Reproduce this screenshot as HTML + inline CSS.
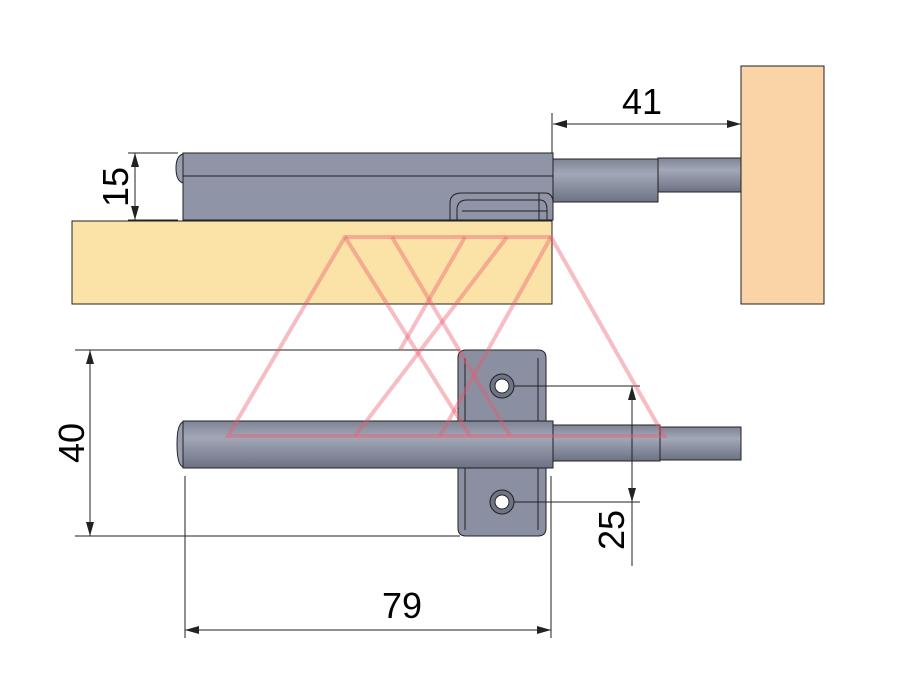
<!DOCTYPE html>
<html><head><style>body{margin:0;background:#fff}svg{display:block}</style></head><body>
<svg width="900" height="675" viewBox="0 0 900 675" xmlns="http://www.w3.org/2000/svg" font-family="Liberation Sans, sans-serif">
<defs>
<linearGradient id="g" x1="0" y1="0" x2="0" y2="1">
<stop offset="0" stop-color="#7f8496"/><stop offset="0.35" stop-color="#a3a8b8"/><stop offset="1" stop-color="#6c7184"/>
</linearGradient>
</defs>
<!-- top view -->
<rect x="741" y="66" width="83" height="238" fill="#fad3a6" stroke="#222" stroke-width="1"/>
<rect x="72" y="221" width="480" height="83" fill="#fbe2a6" stroke="#222" stroke-width="1"/>
<rect x="658" y="158" width="83" height="34" fill="url(#g)" stroke="#222"/>
<rect x="553" y="159" width="105" height="43" fill="url(#g)" stroke="#222"/>
<rect x="183" y="153" width="370" height="67" fill="#8f94a6" stroke="#222"/>
<path d="M183 154 Q176 156 176 168 Q176 181 183 183 Z" fill="#9a9fb0" stroke="#222"/>
<line x1="183" y1="176" x2="553" y2="176" stroke="#222"/>
<path d="M450 220 V203 Q450 193 462 193 H545 Q553 193 553 203" fill="none" stroke="#222"/>
<path d="M457 220 V210 Q457 200 467 200 H540 Q547 200 547 210 V220" fill="none" stroke="#222"/>
<line x1="462" y1="211" x2="547" y2="211" stroke="#222"/>
<line x1="539" y1="193" x2="539" y2="220" stroke="#222"/>
<!-- dim 41 -->
<line x1="552" y1="113" x2="552" y2="153" stroke="#222"/>
<line x1="553" y1="124" x2="741" y2="124" stroke="#222"/>
<path d="M553 124 l14 -4 v8z M741 124 l-14 -4 v8z" fill="#222"/>
<text x="642" y="114" font-size="36" text-anchor="middle">41</text>
<!-- dim 15 -->
<line x1="128" y1="153" x2="178" y2="153" stroke="#222"/>
<line x1="128" y1="220" x2="178" y2="220" stroke="#222"/>
<line x1="135" y1="153" x2="135" y2="220" stroke="#222"/>
<path d="M135 153 l-4 14 h8z M135 220 l-4 -14 h8z" fill="#222"/>
<text x="0" y="0" font-size="36" text-anchor="middle" transform="translate(128,187) rotate(-90)">15</text>
<!-- bottom view -->
<path d="M466 350 H538 Q546 350 546 358 V528 Q546 536 538 536 H466 Q458 536 458 528 V358 Q458 350 466 350Z" fill="#8a8fa1" stroke="#222"/>
<line x1="465" y1="358" x2="465" y2="530" stroke="#222"/>
<line x1="538" y1="358" x2="538" y2="530" stroke="#222"/>
<rect x="660" y="427" width="81" height="33" fill="url(#g)" stroke="#222"/>
<rect x="553" y="425" width="107" height="36" fill="url(#g)" stroke="#222"/>
<rect x="183" y="421" width="370" height="47" fill="url(#g)" stroke="#222"/>
<path d="M183 422 Q177 424 177 444 Q177 465 183 467 Z" fill="#9a9fb0" stroke="#222"/>
<circle cx="502" cy="386" r="12" fill="#6e7385" stroke="#222"/><circle cx="502" cy="386" r="7" fill="#fff" stroke="#222"/>
<circle cx="502" cy="502" r="12" fill="#6e7385" stroke="#222"/><circle cx="502" cy="502" r="7" fill="#fff" stroke="#222"/>
<!-- dim 40 -->
<line x1="75" y1="350" x2="460" y2="350" stroke="#222"/>
<line x1="75" y1="536" x2="460" y2="536" stroke="#222"/>
<line x1="90" y1="350" x2="90" y2="536" stroke="#222"/>
<path d="M90 350 l-4 14 h8z M90 536 l-4 -14 h8z" fill="#222"/>
<text font-size="36" text-anchor="middle" transform="translate(84,443) rotate(-90)">40</text>
<!-- dim 25 -->
<line x1="514" y1="386" x2="640" y2="386" stroke="#222"/>
<line x1="514" y1="502" x2="640" y2="502" stroke="#222"/>
<line x1="632" y1="386" x2="632" y2="566" stroke="#222"/>
<path d="M632 386 l-4 14 h8z M632 502 l-4 -14 h8z" fill="#222"/>
<text font-size="36" text-anchor="middle" transform="translate(624,530) rotate(-90)">25</text>
<!-- dim 79 -->
<line x1="185" y1="476" x2="185" y2="638" stroke="#222"/>
<line x1="551" y1="476" x2="551" y2="638" stroke="#222"/>
<line x1="185" y1="630" x2="551" y2="630" stroke="#222"/>
<path d="M185 630 l14 -4 v8z M551 630 l-14 -4 v8z" fill="#222"/>
<text x="402" y="618" font-size="36" text-anchor="middle">79</text>
<!-- watermark -->
<g fill="none" stroke="rgba(235,90,110,0.4)" stroke-width="4">
<path d="M228 436 L345 237 H551 L664 436 Z"/>
<path d="M345 237 L470 436"/>
<path d="M392 237 L510 436"/>
<path d="M507 237 L355 436"/>
<path d="M465 237 L400 350"/>
<path d="M551 237 L440 436"/>
</g>
</svg>
</body></html>
